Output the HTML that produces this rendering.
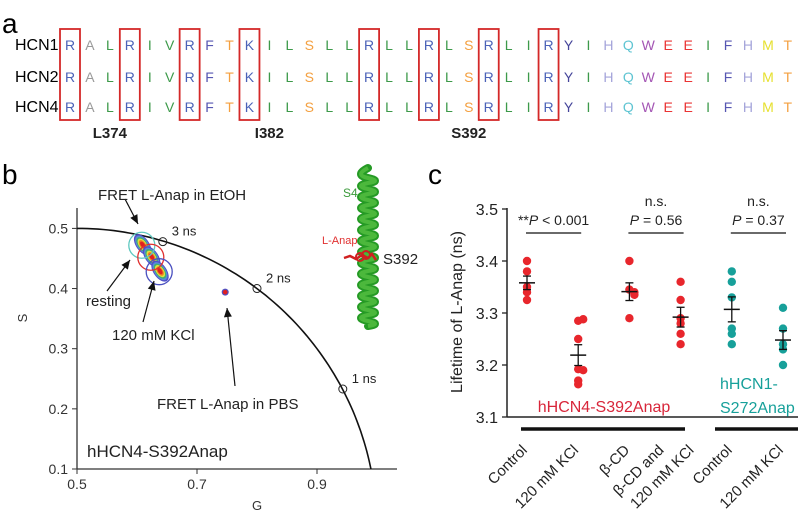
<!DOCTYPE html>
<html><head><meta charset="utf-8"><style>
body{margin:0;background:#fff;width:798px;height:515px;overflow:hidden;font-family:"Liberation Sans",sans-serif}
svg text{font-family:"Liberation Sans",sans-serif}
</style></head><body>
<svg id="fig" width="798" height="515" viewBox="0 0 798 515" xmlns="http://www.w3.org/2000/svg">
<text x="2" y="33" font-size="28">a</text>
<text x="2" y="184" font-size="28">b</text>
<text x="428" y="184" font-size="28">c</text>
<g id="align"></g>
<g id="phasor"></g>
<g id="helix"></g>
<g id="dots"></g>
</svg>
<script>
const NS="http://www.w3.org/2000/svg";
function mk(p,t,a,txt){const e=document.createElementNS(NS,t);for(const k in a)e.setAttribute(k,a[k]);if(txt!==undefined)e.textContent=txt;p.appendChild(e);return e;}

// ---------- panel a ----------
const seqRows=["HCN1","HCN2","HCN4"];
const sequence="RALRIVRFTKILSLLRLLRLSRLIRYIHQWEEIFHMT";
const boxedIdx=[0,3,6,9,15,18,21,24];
const residueLabels=["L374","I382","S392"];
const residueLabelIdx=[2,10,20];
const colorMap={R:"#4b62b8",K:"#4b62b8",A:"#9a9a9a",L:"#3d9a4a",I:"#3d9a4a",V:"#3d9a4a",F:"#5656b2",T:"#f4a040",S:"#f4a040",Y:"#45459a",H:"#a4a4da",Q:"#5ec4d2",W:"#a456b4",E:"#ea3434",M:"#e6e030"};
const A=document.getElementById('align');
const ax0=70,adx=19.94,rowY=[50,82,112];
seqRows.forEach((n,r)=>{
  const t=mk(A,'text',{x:15,y:rowY[r],'font-size':16},n);
  
  
  for(let i=0;i<sequence.length;i++){
    mk(A,'text',{x:ax0+i*adx,y:rowY[r],'font-size':14,'text-anchor':'middle',fill:colorMap[sequence[i]],'font-family':'Liberation Mono'},sequence[i]);
  }
});
boxedIdx.forEach(i=>{
  const b=mk(A,'rect',{x:ax0+i*adx-10,y:29,width:20,height:91,fill:'none',stroke:'#d42828','stroke-width':1.8});
  
  
});
residueLabels.forEach((l,k)=>{
  const t=mk(A,'text',{x:ax0+residueLabelIdx[k]*adx,y:138,'font-size':15,'font-weight':'bold','text-anchor':'middle',fill:'#222'},l);
  
  
});

// ---------- panel b ----------
const gTicks=[0.5,0.7,0.9];
const sTicks=[0.1,0.2,0.3,0.4,0.5];
const lifeLabels=["3 ns","2 ns","1 ns"];
const lifeG=[0.643,0.80,0.943];
const lifeS=[0.478,0.40,0.233];
const clusterNames=["etoh","resting","kcl"];
const clusterG=[0.608,0.623,0.637];
const clusterS=[0.472,0.452,0.428];
const pbsG=[0.747];const pbsS=[0.394];
const B=document.getElementById('phasor');
const gx=g=>77+(g-0.5)*600, sy=s=>469-(s-0.1)*601.5;
mk(B,'line',{x1:77,y1:208,x2:77,y2:469,stroke:'#333','stroke-width':1.3});
mk(B,'line',{x1:77,y1:469,x2:397,y2:469,stroke:'#333','stroke-width':1.3});
gTicks.forEach(g=>{mk(B,'line',{x1:gx(g),y1:469,x2:gx(g),y2:474,stroke:'#333'});
  const t=mk(B,'text',{x:gx(g),y:489,'font-size':14,'text-anchor':'middle',fill:'#333'},g.toFixed(1));
  });
sTicks.forEach(s=>{mk(B,'line',{x1:72,y1:sy(s),x2:77,y2:sy(s),stroke:'#333'});
  const t=mk(B,'text',{x:68,y:sy(s)+5,'font-size':14,'text-anchor':'end',fill:'#333'},s.toFixed(1));
  });
let d="";for(let a=90;a>=0;a-=1){const r=a*Math.PI/180;const g=0.5+0.5*Math.cos(r),s=0.5*Math.sin(r);if(s<0.1)break;d+=(d?"L":"M")+gx(g).toFixed(1)+","+sy(s).toFixed(1);}
const sc=Math.sqrt(0.25-0.01);d+="L"+gx(0.5+sc)+","+sy(0.1);
mk(B,'path',{d:d,fill:'none',stroke:'#111','stroke-width':1.6});
lifeLabels.forEach((l,i)=>{mk(B,'circle',{cx:gx(lifeG[i]),cy:sy(lifeS[i]),r:4,fill:'none',stroke:'#222','stroke-width':1});
  const t=mk(B,'text',{x:gx(lifeG[i])+9,y:sy(lifeS[i])-6,'font-size':13,fill:'#222'},l);
  });
const blobCols=["#5050c8","#5a8ad8","#40b070","#e0e040","#f08020","#e02020"];
clusterG.forEach((g,i)=>{const cx=gx(g),cy=sy(clusterS[i]);
  for(let k=0;k<6;k++){mk(B,'ellipse',{cx:cx+1,cy:cy,rx:6.5-k*0.9,ry:12-k*1.7,fill:blobCols[k],transform:`rotate(-35 ${cx} ${cy})`});}
});
const ringCols=["#5ec8c0","#e03030","#4a50c0"];
clusterG.forEach((g,i)=>{const c=mk(B,'circle',{cx:gx(g),cy:sy(clusterS[i]),r:13,fill:'none',stroke:ringCols[i],'stroke-width':1.3});
  });
mk(B,'circle',{cx:gx(pbsG[0]),cy:sy(pbsS[0]),r:3.5,fill:'#5050c0'});
mk(B,'circle',{cx:gx(pbsG[0]),cy:sy(pbsS[0]),r:2.3,fill:'#e02020'});
function arrow(x1,y1,x2,y2,name){const a=Math.atan2(y2-y1,x2-x1);mk(B,'line',{x1,y1,x2,y2,stroke:'#111','stroke-width':1.2});
  const h=9,w=4;const bx=x2-h*Math.cos(a),by=y2-h*Math.sin(a);
  const p=mk(B,'polygon',{points:`${x2},${y2} ${bx-w*Math.sin(a)},${by+w*Math.cos(a)} ${bx+w*Math.sin(a)},${by-w*Math.cos(a)}`,fill:'#111'});
  }
arrow(125,199,138,224,'arrow-etoh');arrow(107,291,130,260,'arrow-resting');arrow(143,322,154,281,'arrow-kcl');arrow(235,386,227,308,'arrow-pbs');
[["FRET L-Anap in EtOH",98,200,'label-etoh'],["resting",86,306,'label-resting'],["120 mM KCl",112,340,'label-kcl'],["FRET L-Anap in PBS",157,409,'label-pbs']].forEach(o=>{
  const t=mk(B,'text',{x:o[1],y:o[2],'font-size':15,fill:'#222'},o[0]);});
const t1=mk(B,'text',{x:87,y:457,'font-size':17,fill:'#222'},"hHCN4-S392Anap");
const t2=mk(B,'text',{x:257,y:510,'font-size':13,'text-anchor':'middle',fill:'#333'},"G");
const t3=mk(B,'text',{x:27,y:318,'font-size':13,'text-anchor':'middle',fill:'#333',transform:'rotate(-90 27 318)'},"S");

// ---------- helix ----------
const H=document.getElementById('helix');
let hp="M368,168";for(let y=172;y<318;y+=11){hp+=` Q354,${y+3} 368,${y+6} Q382,${y+9} 368,${y+11}`;}
mk(H,'path',{d:hp,fill:'none',stroke:'#259a25','stroke-width':8,'stroke-linecap':'round'});
mk(H,'path',{d:hp,fill:'none',stroke:'#4cb83c','stroke-width':4});
mk(H,'path',{d:'M344,258 L350,256 L356,259 L362,255 L368,258 L372,254 L376,260',fill:'none',stroke:'#d02020','stroke-width':2.5});
mk(H,'circle',{cx:360,cy:257,r:4,fill:'none',stroke:'#d02020','stroke-width':2});
mk(H,'circle',{cx:366,cy:255,r:4,fill:'none',stroke:'#d02020','stroke-width':2});
[["S4",343,197,12,'#3a9a3a','s4-label'],["L-Anap",322,244,11,'#e03030','l-anap-label'],["S392",383,264,15,'#222','s392-label']].forEach(o=>{
  const t=mk(H,'text',{x:o[1],y:o[2],'font-size':o[3],fill:o[4]},o[0]);});

// ---------- panel c ----------
const categories=["Control","120 mM KCl","β-CD","β-CD and|120 mM KCl","Control","120 mM KCl"];
const groupColors=["#e8262c","#e8262c","#e8262c","#e8262c","#17a09a","#17a09a"];
const v0=[3.40,3.38,3.35,3.34,3.325];
const v1=[3.285,3.288,3.25,3.192,3.19,3.17,3.163];
const v2=[3.40,3.345,3.34,3.335,3.29];
const v3=[3.36,3.325,3.29,3.28,3.26,3.24];
const v4=[3.38,3.36,3.33,3.27,3.26,3.24];
const v5=[3.31,3.27,3.24,3.23,3.20];
const values=[v0,v1,v2,v3,v4,v5];
const means=[3.358,3.219,3.341,3.292,3.307,3.248];
const sems=[0.013,0.02,0.017,0.019,0.024,0.018];
const yTicks=[3.1,3.2,3.3,3.4,3.5];
const pLabels=["**P < 0.001","P = 0.56","P = 0.37"];
const C=document.getElementById('dots');
const cx=i=>527+i*51.2, cy=v=>417-(v-3.1)*520;
mk(C,'line',{x1:507,y1:208,x2:507,y2:417,stroke:'#222','stroke-width':1.5});
mk(C,'line',{x1:507,y1:417,x2:798,y2:417,stroke:'#222','stroke-width':1.5});
yTicks.forEach(v=>{mk(C,'line',{x1:502,y1:cy(v),x2:507,y2:cy(v),stroke:'#222','stroke-width':1.3});
  const t=mk(C,'text',{x:498,y:cy(v)+6,'font-size':16,'text-anchor':'end',fill:'#222'},v.toFixed(1));
  });
const yt=mk(C,'text',{x:462,y:312,'font-size':16,'text-anchor':'middle',fill:'#222',transform:'rotate(-90 462 312)'},"Lifetime of L-Anap (ns)");

values.forEach((arr,i)=>{
  arr.forEach((v,k)=>{
    let jit=0;arr.forEach((w,m)=>{if(m<k&&Math.abs(w-v)<0.006)jit=(jit<=0?5:-5);});
    const dot=mk(C,'circle',{cx:cx(i)+jit,cy:cy(v),r:4.2,fill:groupColors[i]});
    });
  const x=cx(i),m=cy(means[i]),hi=cy(means[i]+sems[i]),lo=cy(means[i]-sems[i]);
  mk(C,'line',{x1:x,y1:hi,x2:x,y2:lo,stroke:'#111','stroke-width':1.3});
  mk(C,'line',{x1:x-4,y1:hi,x2:x+4,y2:hi,stroke:'#111','stroke-width':1.3});
  mk(C,'line',{x1:x-4,y1:lo,x2:x+4,y2:lo,stroke:'#111','stroke-width':1.3});
  const ml=mk(C,'line',{x1:x-8,y1:m,x2:x+8,y2:m,stroke:'#111','stroke-width':1.5});
  
});
pLabels.forEach((p,k)=>{const x1=cx(2*k)-1,x2=cx(2*k+1)+3;
  mk(C,'line',{x1,y1:233,x2,y2:233,stroke:'#111','stroke-width':1.2});
  const mid=(x1+x2)/2;
  const t=mk(C,'text',{x:mid,y:225,'font-size':14,'text-anchor':'middle',fill:'#222'});
  const parts=p.match(/^(\**)P(.*)$/);
  if(parts[1])mk(t,'tspan',{},parts[1]);mk(t,'tspan',{'font-style':'italic'},'P');mk(t,'tspan',{},parts[2]);
  
  if(k>0){const ns=mk(C,'text',{x:mid,y:206,'font-size':14,'text-anchor':'middle',fill:'#222'},'n.s.');}
});
const g1=mk(C,'text',{x:604,y:412,'font-size':16,'text-anchor':'middle',fill:'#d8263a'},"hHCN4-S392Anap");
const g2=mk(C,'text',{x:720,y:389,'font-size':16,fill:'#17a09a'},"hHCN1-");
mk(C,'text',{x:720,y:413,'font-size':16,fill:'#17a09a'},"S272Anap");
mk(C,'line',{x1:521,y1:429,x2:685,y2:429,stroke:'#111','stroke-width':3.5});
mk(C,'line',{x1:715,y1:429,x2:798,y2:429,stroke:'#111','stroke-width':3.5});
categories.forEach((c,i)=>{
  const lines=c.split('|');
  lines.forEach((l,j)=>{
    const dx=lines.length>1?(j===0?-16:14):1;
    const x=cx(i)+dx,y=451;
    const t=mk(C,'text',{x:x,y:y,'font-size':15,'text-anchor':'end',fill:'#222',transform:`rotate(-45 ${x} ${y})`},l);
    });
});
</script>
</body></html>
